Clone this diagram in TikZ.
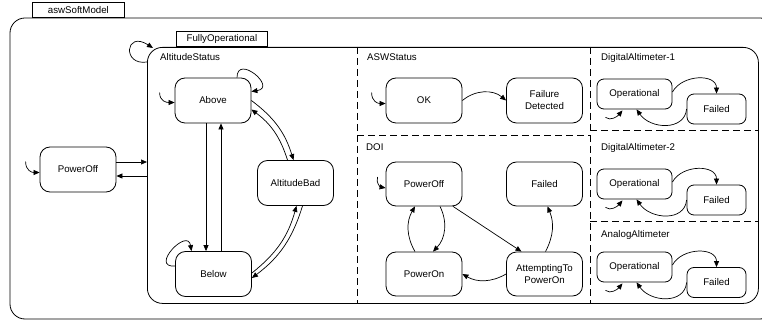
\documentclass[tikz,border=0pt]{standalone}
\usepackage{fontspec}
\setmainfont{Liberation Sans}
\usetikzlibrary{arrows.meta,calc}
\begin{document}
\begin{tikzpicture}[x=1pt,y=-1pt,
  every node/.style={font=\fontsize{9.7}{12}\selectfont},
  st/.style={draw,rounded corners=10pt,minimum width=76pt,minimum height=45pt,
    inner sep=0pt,align=center,line width=0.8pt},
  sst/.style={st,minimum width=75pt,minimum height=30pt,rounded corners=7pt},
  fst/.style={sst,minimum width=59pt},
  arr/.style={-{Triangle[length=6pt,width=5pt]},line width=0.7pt},
  region/.style={draw,line width=0.8pt,inner sep=0pt},
  tab/.style={draw,line width=0.8pt,inner sep=0pt,anchor=south west,minimum height=15pt},
  divider/.style={dash pattern=on 7pt off 4pt,line width=0.8pt},
  lbl/.style={anchor=west,inner sep=0pt},
]
\useasboundingbox (0,0) rectangle (762,320);
\clip (0,0) rectangle (762,320);

% top-level machine
\draw[region,rounded corners=15pt] (10,18) rectangle (775,319);
\node[tab,minimum width=92pt] (roottab) at (32,18) {aswSoftModel};

% composite state FullyOperational
\node[region,rounded corners=15pt,anchor=north west,minimum width=611pt,minimum height=256pt] (fo) at (147,47) {};
\node[tab,minimum width=91pt] (fotab) at (176,47) {FullyOperational};

% orthogonal regions
\draw[divider] (357,47) -- (357,303);
\draw[divider] (590,47) -- (590,303);
\draw[divider] (357,135) -- (590,135);
\draw[divider] (590,130) -- (758,130);
\draw[divider] (590,221) -- (758,221);

\node[lbl] (lAlt) at (160,57) {AltitudeStatus};
\node[lbl] (lAsw) at (367,57) {ASWStatus};
\node[lbl] (lDoi) at (366,147) {DOI};
\node[lbl] (lDa1) at (601,58) {DigitalAltimeter-1};
\node[lbl] (lDa2) at (601,148) {DigitalAltimeter-2};
\node[lbl] (lAna) at (601,235) {AnalogAltimeter};

% states
\node[st] (poff)  at (78,169.5)  {PowerOff};
\node[st] (above) at (213,100.5) {Above};
\node[st] (below) at (213.5,274) {Below};
\node[st] (abad)  at (295.5,183) {AltitudeBad};
\node[st] (ok)    at (424,100.5) {OK};
\node[st] (fd)    at (544.5,100.5) {Failure\\Detected};
\node[st,minimum height=44pt] (dpoff) at (424,184) {PowerOff};
\node[st,minimum height=44pt] (dfail) at (544.5,184) {Failed};
\node[st,minimum height=44pt] (don)   at (424,274) {PowerOn};
\node[st,minimum height=44pt] (datt)  at (544.5,274) {AttemptingTo\\PowerOn};
\node[sst] (op1) at (634.5,94)  {Operational};
\node[fst] (f1)  at (716.5,109) {Failed};
\node[sst] (op2) at (634.5,184) {Operational};
\node[fst] (f2)  at (716.5,200) {Failed};
\node[sst] (op3) at (634.5,267) {Operational};
\node[fst] (f3)  at (716.5,282.5) {Failed};

% initial pseudo-state arrows
\coordinate (i0) at ($(poff.west)+(-14,-8)$);
\draw[arr] (i0) .. controls +(0,9) and +(-8,0) .. ($(poff.west)+(0,3)$);
\coordinate (i1) at ($(above.west)+(-15,-8)$);
\draw[arr] (i1) .. controls +(0,9) and +(-8,0) .. ($(above.west)+(0,2)$);
\coordinate (i2) at ($(ok.west)+(-14,-8)$);
\draw[arr] (i2) .. controls +(0,9) and +(-8,0) .. ($(ok.west)+(0,3)$);
\coordinate (i3) at ($(dpoff.west)+(-8,-7)$);
\draw[arr] (i3) .. controls +(-2,6) and +(-5,-1) .. ($(dpoff.west)+(0,4)$);
\foreach \o in {op1,op2,op3}{
  \coordinate (i\o) at ($(\o.south)+(-29,8)$);
  \draw[arr] (i\o) .. controls +(5,4) and +(-5,6) .. ($(\o.south)+(-12,1)$);
}

% top level transitions
\coordinate (p1) at ($(poff.east)+(0,-7.5)$);
\draw[arr] (p1) -- (p1 -| fo.west);
\coordinate (p2) at ($(poff.east)+(0,6.5)$);
\draw[arr] (p2 -| fo.west) -- (p2);
\draw[arr] ($(fo.north west)+(0,15)$) .. controls (122,66) and (125,30) .. ($(fo.north west)+(6,1)$);

% AltitudeStatus
\draw[arr] ($(above.south)+(-7,0)$) -- ($(below.north)+(-7.5,0)$);
\draw[arr] ($(below.north)+(7.5,0)$) -- ($(above.south)+(8,0)$);
\draw[arr] ($(above.north)+(24,0)$) .. controls +(0,-24) and +(26,-4) .. ($(above.east)+(0,-9)$);
\draw[arr] ($(below.west)+(0,-8)$) .. controls +(-26,2) and +(-4,-24) .. ($(below.north)+(-22,0)$);
\draw[arr] (above.east) to[bend left=18] ($(abad.north)+(-2,0)$);
\draw[arr] ($(abad.north)+(-8,0)$) to[bend right=18] ($(above.east)+(0,9)$);
\draw[arr] ($(abad.south)+(7,0)$) to[bend left=18] ($(below.east)+(0,4)$);
\draw[arr] ($(below.east)+(0,-1)$) to[bend right=18] ($(abad.south)+(1,0)$);

% ASWStatus
\draw[arr] (ok.east) to[bend left=40] (fd.west);

% DOI
\draw[arr] ($(dpoff.south)+(16,0)$) to[bend left=35] ($(don.north)+(9,0)$);
\draw[arr] ($(don.north)+(-9,0)$) to[bend left=30] ($(dpoff.south)+(-9,0)$);
\draw[arr] ($(dpoff.south)+(29,0)$) -- ($(datt.north)+(-23,0)$);
\draw[arr] ($(datt.north)+(1,0)$) to[bend right=25] ($(dfail.south)+(3,0)$);
\draw[arr] (datt.west) to[bend left=30] (don.east);

% altimeters
\foreach \o/\f in {op1/f1,op2/f2,op3/f3}{
  \draw[arr] ($(\o.east)+(0,-2)$) .. controls +(10,-18) and +(0,-20) .. (\f.north);
  \draw[arr] (\f.west) .. controls +(-2,22) and +(14,20) .. ($(\o.south)+(2,0)$);
}
\end{tikzpicture}
\end{document}
